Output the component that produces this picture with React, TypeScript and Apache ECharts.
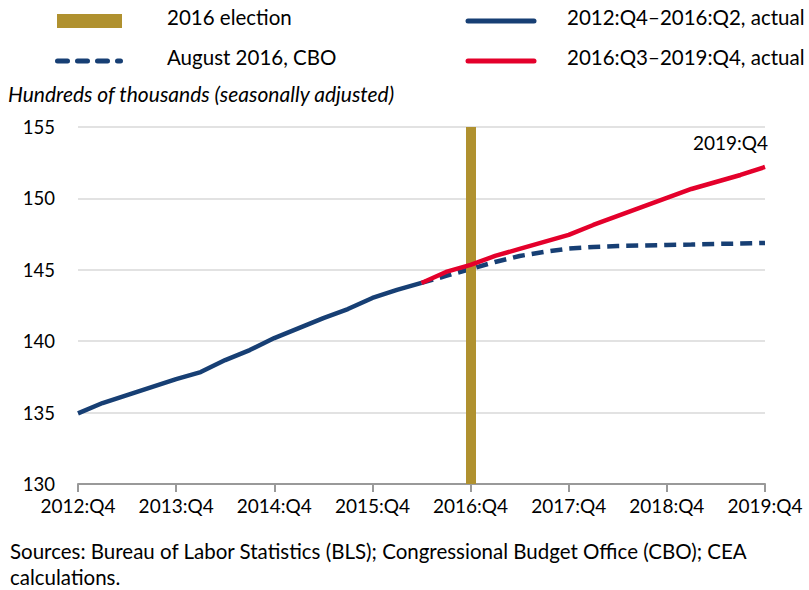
import React, { useEffect, useRef } from "react";
import * as echarts from "echarts";

const categories: string[] = [
  "2012:Q4", "2013:Q1", "2013:Q2", "2013:Q3", "2013:Q4",
  "2014:Q1", "2014:Q2", "2014:Q3", "2014:Q4",
  "2015:Q1", "2015:Q2", "2015:Q3", "2015:Q4",
  "2016:Q1", "2016:Q2", "2016:Q3", "2016:Q4",
  "2017:Q1", "2017:Q2", "2017:Q3", "2017:Q4",
  "2018:Q1", "2018:Q2", "2018:Q3", "2018:Q4",
  "2019:Q1", "2019:Q2", "2019:Q3", "2019:Q4",
];

// 2012:Q4 – 2016:Q2 actual
const actualEarly: (number | null)[] = [
  134.95, 135.67, 136.23, 136.79, 137.35, 137.84, 138.68, 139.38, 140.22,
  140.92, 141.62, 142.25, 143.03, 143.59, 144.08,
  null, null, null, null, null, null, null, null, null, null, null, null, null, null,
];

// 2016:Q3 – 2019:Q4 actual (joined from 2016:Q2)
const actualLate: (number | null)[] = [
  null, null, null, null, null, null, null, null, null, null, null, null, null, null,
  144.08, 144.85, 145.34, 145.97, 146.46, 146.95, 147.44, 148.14, 148.77,
  149.4, 150.03, 150.66, 151.15, 151.64, 152.2,
];

// August 2016 CBO projection
const cboProjection: (number | null)[] = [
  null, null, null, null, null, null, null, null, null, null, null, null, null, null,
  144.08, 144.57, 145.06, 145.55, 145.97, 146.25, 146.49, 146.6, 146.67,
  146.7, 146.74, 146.77, 146.81, 146.84, 146.88,
];

const electionQuarter = "2016:Q4";
const endAnnotation = "2019:Q4";
const yTicks = { min: 130, max: 155, interval: 5 };

const FONT = "Lato, 'Noto Sans', sans-serif";
const NAVY = "#173F74";
const RED = "#E4002B";
const GOLD = "#B0912F";

export default function App() {
  const ref = useRef<HTMLDivElement>(null);

  useEffect(() => {
    if (!ref.current) return;
    const chart = echarts.init(ref.current, undefined, { renderer: "svg" });
    const lastIdx = actualLate.length - 1;

    chart.setOption({
      animation: false,
      backgroundColor: "#fff",
      textStyle: { fontFamily: FONT },
      grid: { left: 78, right: 44, top: 127, bottom: 106, containLabel: false },
      xAxis: {
        type: "category",
        data: categories,
        boundaryGap: false,
        axisLine: { show: true, lineStyle: { color: "#999999", width: 2 } },
        axisTick: { show: true, interval: 3, length: 8, lineStyle: { color: "#999999", width: 2 } },
        axisLabel: { interval: 3, color: "#000", fontSize: 19, fontFamily: FONT, margin: 12 },
        splitLine: { show: false },
      },
      yAxis: {
        type: "value",
        min: yTicks.min,
        max: yTicks.max,
        interval: yTicks.interval,
        axisLine: { show: false },
        axisTick: { show: false },
        axisLabel: { color: "#000", fontSize: 18.5, fontFamily: FONT, margin: 23 },
        splitLine: { lineStyle: { color: "#D9D9D9", width: 1.5 } },
      },
      series: [
        {
          name: "2016 election",
          type: "line",
          data: [],
          z: 1,
          markLine: {
            silent: true,
            symbol: "none",
            label: { show: false },
            lineStyle: { color: GOLD, width: 10, type: "solid" },
            data: [{ xAxis: electionQuarter }],
          },
        },
        {
          name: "August 2016, CBO",
          type: "line",
          data: cboProjection,
          showSymbol: false,
          symbol: "none",
          z: 3,
          lineStyle: { color: NAVY, width: 4.5, type: [12, 7] },
        },
        {
          name: "2012:Q4–2016:Q2, actual",
          type: "line",
          data: actualEarly,
          showSymbol: false,
          symbol: "none",
          z: 4,
          lineStyle: { color: NAVY, width: 4.5 },
        },
        {
          name: "2016:Q3–2019:Q4, actual",
          type: "line",
          data: actualLate,
          showSymbol: false,
          symbol: "none",
          z: 5,
          lineStyle: { color: RED, width: 4.5 },
          markPoint: {
            silent: true,
            symbol: "circle",
            symbolSize: 0,
            itemStyle: { color: "rgba(0,0,0,0)" },
            label: {
              show: true,
              position: "top",
              distance: 15,
              align: "right",
              offset: [3, 0],
              formatter: endAnnotation,
              color: "#000",
              fontSize: 19,
              fontFamily: FONT,
            },
            data: [{ coord: [lastIdx, actualLate[lastIdx]] }],
          },
        },
      ],
      graphic: [
        { type: "rect", shape: { x: 57, y: 14, width: 65, height: 14 }, style: { fill: GOLD } },
        {
          type: "text",
          x: 167,
          y: 17,
          style: { text: "2016 election", fill: "#000", font: `20.5px ${FONT}`, verticalAlign: "middle" },
        },
        {
          type: "line",
          shape: { x1: 57.5, y1: 61, x2: 120.5, y2: 61 },
          style: { stroke: NAVY, lineWidth: 5, lineDash: [10, 10], lineCap: "round" },
        },
        {
          type: "text",
          x: 167,
          y: 57,
          style: { text: "August 2016, CBO", fill: "#000", font: `20.5px ${FONT}`, verticalAlign: "middle" },
        },
        {
          type: "line",
          shape: { x1: 468, y1: 21, x2: 534, y2: 21 },
          style: { stroke: NAVY, lineWidth: 5, lineCap: "round" },
        },
        {
          type: "text",
          x: 567,
          y: 17,
          style: { text: "2012:Q4–2016:Q2, actual", fill: "#000", font: `20.5px ${FONT}`, verticalAlign: "middle" },
        },
        {
          type: "line",
          shape: { x1: 468, y1: 61, x2: 534, y2: 61 },
          style: { stroke: RED, lineWidth: 5, lineCap: "round" },
        },
        {
          type: "text",
          x: 567,
          y: 57,
          style: { text: "2016:Q3–2019:Q4, actual", fill: "#000", font: `20.5px ${FONT}`, verticalAlign: "middle" },
        },
        {
          type: "text",
          x: 8,
          y: 93,
          style: {
            text: "Hundreds of thousands (seasonally adjusted)",
            fill: "#000",
            font: `italic 21px ${FONT}`,
            verticalAlign: "middle",
          },
        },
        {
          type: "text",
          x: 10,
          y: 551,
          style: {
            text: "Sources: Bureau of Labor Statistics (BLS); Congressional Budget Office (CBO); CEA",
            fill: "#000",
            font: `20.5px ${FONT}`,
            verticalAlign: "middle",
          },
        },
        {
          type: "text",
          x: 10,
          y: 577,
          style: { text: "calculations.", fill: "#000", font: `20.5px ${FONT}`, verticalAlign: "middle" },
        },
      ],
    });
    return () => chart.dispose();
  }, []);

  return (
    <div
      ref={ref}
      style={{ width: 809, height: 590, position: "absolute", left: 0, top: 0 }}
    />
  );
}
